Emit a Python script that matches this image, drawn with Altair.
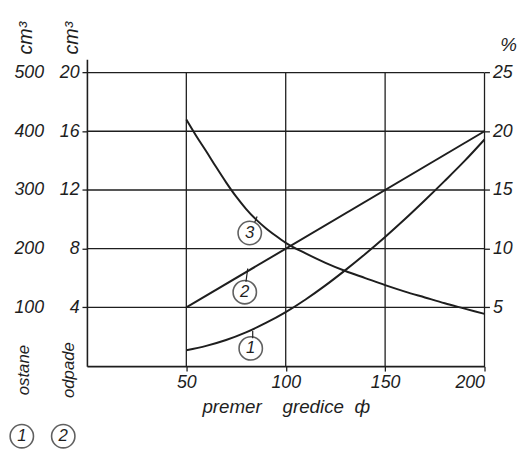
import altair as alt
import pandas as pd

# ---------------- data ----------------
grid_x = [50, 100, 150, 200]
grid_y = [4, 8, 12, 16, 20]

ostane_x = [50, 60, 70, 80, 90, 100, 110, 120, 130, 140, 150, 160, 170, 180, 190, 200]
ostane_cm3 = [27, 34.5, 44.5, 57.5, 73.5, 92, 113.5, 137.5, 163.5, 191, 220, 250.5, 282.5,
              315.5, 349.5, 386]

odpade_x = [50, 200]
odpade_cm3 = [4, 16]

pct_x = [50, 55, 60, 65, 70, 75, 80, 85, 90, 95, 100, 110, 120, 130, 140, 150, 160, 170,
         180, 190, 200]
pct_val = [21.0, 19.6, 18.3, 16.95, 15.65, 14.45, 13.4, 12.5, 11.75, 11.1, 10.5, 9.6, 8.8, 8.1,
           7.5, 6.9, 6.35, 5.85, 5.35, 4.9, 4.45]

left_outer_ticks = [100, 200, 300, 400, 500]
left_inner_ticks = [4, 8, 12, 16, 20]
right_ticks = [5, 10, 15, 20, 25]
x_ticks = [50, 100, 150, 200]

label_ids = ["3", "2", "1"]
label_x = [81.9, 79.4, 82.4]
label_y = [9.07, 5.04, 1.21]
leader_x1 = [84.4, 80.0, 83.4]
leader_y1 = [9.8, 5.75, 1.9]
leader_x2 = [85.6, 80.9, 83.4]
leader_y2 = [10.2, 6.65, 2.4]

# ---------------- tables ----------------
vgrid = pd.DataFrame({"x": grid_x, "y0": [0] * len(grid_x), "y1": [20] * len(grid_x)})
hgrid = pd.DataFrame({"y": grid_y, "x0": [0] * len(grid_y), "x1": [200] * len(grid_y)})
ostane = pd.DataFrame({"x": ostane_x, "v": ostane_cm3})
odpade = pd.DataFrame({"x": odpade_x, "v": odpade_cm3})
pct = pd.DataFrame({"x": pct_x, "v": pct_val})
labels = pd.DataFrame({"id": label_ids, "x": label_x, "y": label_y})
leaders = pd.DataFrame({"x1": leader_x1, "y1": leader_y1, "x2": leader_x2, "y2": leader_y2})
one = pd.DataFrame({"a": [0]})

INK = "#1e1e1e"
FONT = "Liberation Sans"
NB = "\u00a0"

X_SCALE = alt.Scale(domain=[0, 200], nice=False, zero=False)
INNER = alt.Scale(domain=[0, 20.9], nice=False, zero=False)
OUTER = alt.Scale(domain=[0, 522.5], nice=False, zero=False)
RIGHT = alt.Scale(domain=[0, 26.125], nice=False, zero=False)

x_axis = alt.Axis(values=x_ticks, grid=False, domain=True, domainColor=INK, domainWidth=1.6,
                  ticks=True, tickSize=5, tickColor=INK, tickWidth=1.3, labelPadding=3,
                  title="premer" + NB * 4 + "gredice" + NB * 2 + "ф", titlePadding=6,
                  titleFontSize=19)


def xenc(field):
    return alt.X(field, type="quantitative", scale=X_SCALE, axis=x_axis)


inner_axis = alt.Axis(values=left_inner_ticks, orient="left", grid=False, domain=True,
                      domainColor=INK, domainWidth=1.6, ticks=True, tickSize=5, tickColor=INK,
                      tickWidth=1.3, labelPadding=3, title="cm³", titleAngle=270,
                      titleFontSize=20, titleX=-16, titleY=-22, titleAlign="center",
                      titleBaseline="middle")
outer_axis = alt.Axis(values=left_outer_ticks, orient="left", offset=40, grid=False,
                      domain=False, ticks=False, tickSize=0, labelPadding=4, title="cm³",
                      titleAngle=270, titleFontSize=20, titleX=-22, titleY=-22,
                      titleAlign="center", titleBaseline="middle")
right_axis = alt.Axis(values=right_ticks, orient="right", grid=False, domain=False,
                      ticks=True, tickSize=5, tickColor=INK, tickWidth=1.3, labelPadding=3,
                      title="%", titleAngle=0, titleFontSize=19, titleX=24, titleY=-15,
                      titleAlign="center", titleBaseline="middle")

l_vgrid = alt.Chart(vgrid).mark_rule(color=INK, strokeWidth=1.3).encode(
    x=xenc("x"),
    y=alt.Y("y0:Q", scale=INNER, axis=inner_axis),
    y2="y1:Q",
)
l_hgrid = alt.Chart(hgrid).mark_rule(color=INK, strokeWidth=1.3).encode(
    y=alt.Y("y:Q", scale=INNER, axis=None),
    x=xenc("x0"),
    x2="x1:Q",
)
l_odpade = alt.Chart(odpade).mark_line(color=INK, strokeWidth=2).encode(
    x=xenc("x"), y=alt.Y("v:Q", scale=INNER, axis=None)
)
l_leaders = alt.Chart(leaders).mark_rule(color=INK, strokeWidth=1.2).encode(
    x=xenc("x1"), x2="x2:Q",
    y=alt.Y("y1:Q", scale=INNER, axis=None), y2="y2:Q",
)
l_circles = alt.Chart(labels).mark_point(shape="circle", filled=False, size=560,
                                         color=INK, strokeWidth=1.6).encode(
    x=xenc("x"), y=alt.Y("y:Q", scale=INNER, axis=None)
)
l_ids = alt.Chart(labels).mark_text(font=FONT, fontStyle="italic", fontSize=17,
                                    color=INK, baseline="middle", align="center").encode(
    x=xenc("x"), y=alt.Y("y:Q", scale=INNER, axis=None), text="id:N"
)
l_ostane = alt.Chart(ostane).mark_line(color=INK, strokeWidth=2, interpolate="monotone").encode(
    x=xenc("x"), y=alt.Y("v:Q", scale=OUTER, axis=outer_axis)
)
l_pct = alt.Chart(pct).mark_line(color=INK, strokeWidth=2, interpolate="monotone").encode(
    x=xenc("x"), y=alt.Y("v:Q", scale=RIGHT, axis=right_axis)
)


def legend_text(txt, px, py):
    return alt.Chart(one).mark_text(text=txt, angle=270, font=FONT, fontStyle="italic",
                                    fontSize=17, color=INK, align="center",
                                    baseline="middle").encode(x=alt.value(px), y=alt.value(py))


def legend_circle(txt, px, py):
    c = alt.Chart(one).mark_point(shape="circle", filled=False, size=560, color=INK,
                                  strokeWidth=1.6).encode(x=alt.value(px), y=alt.value(py))
    t = alt.Chart(one).mark_text(text=txt, font=FONT, fontStyle="italic", fontSize=17,
                                 color=INK, align="center", baseline="middle").encode(
        x=alt.value(px), y=alt.value(py))
    return [c, t]


legend_layers = [legend_text("ostane", -64, 315), legend_text("odpade", -18, 315)]
legend_layers += legend_circle("1", -66, 382) + legend_circle("2", -24, 382)

chart = alt.layer(
    l_vgrid, l_hgrid, l_odpade, l_leaders, l_circles, l_ids, l_ostane, l_pct, *legend_layers
).resolve_scale(y="independent").properties(
    width=403, height=311,
    autosize=alt.AutoSizeParams(type="none"),
    padding={"left": 80, "top": 49, "right": 38, "bottom": 85},
    background="white",
).configure_view(stroke=None).configure_axis(
    labelFont=FONT, labelFontStyle="italic", labelFontSize=18, labelColor=INK,
    titleFont=FONT, titleFontStyle="italic", titleFontWeight="normal", titleFontSize=18,
    titleColor=INK,
)

chart.save("out.html", embed_options={"renderer": "svg", "actions": False})
